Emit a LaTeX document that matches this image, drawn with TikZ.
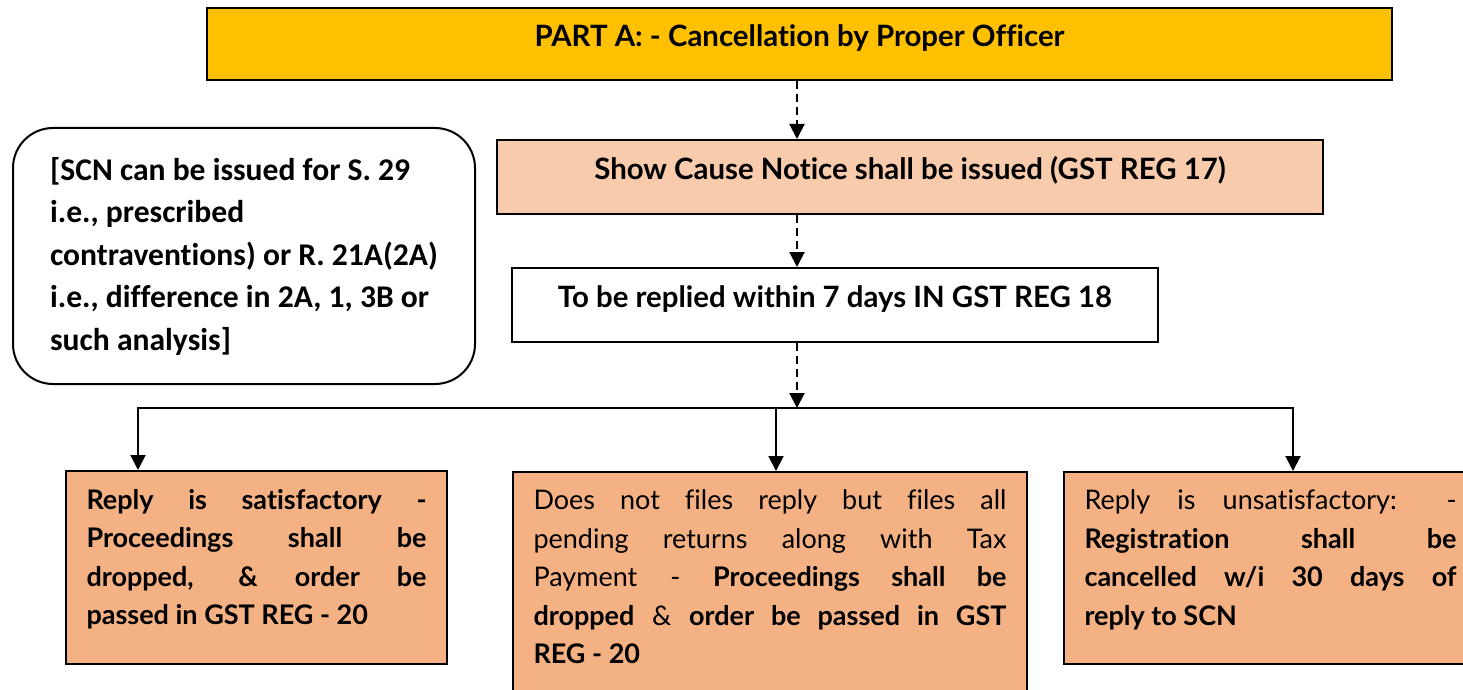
\documentclass[tikz,border=0pt]{standalone}
\usepackage{fontspec}
\setmainfont{Lato}[Ligatures=NoCommon]
\newfontfamily\notefont{Carlito}[Ligatures=NoCommon]
\usetikzlibrary{arrows.meta}

\definecolor{partgold}{HTML}{FFC000}
\definecolor{scnpeach}{HTML}{F8CBAD}
\definecolor{outpeach}{HTML}{F4B183}

\tikzset{
  stage/.style={draw=black, line width=1pt, inner xsep=0pt, inner ysep=0pt,
    font=\fontsize{14.7}{17}\selectfont\bfseries},
  outcome/.style={draw=black, line width=1pt, fill=outpeach, anchor=north west,
    inner xsep=10.25pt, inner ysep=9pt, font=\fontsize{13.5}{19.25}\selectfont},
  flow/.style={-{Triangle[length=7.5pt,width=7.5pt]}, line width=1pt},
  dashflow/.style={flow, dash pattern=on 4pt off 2.5pt},
}

\begin{document}
\begin{tikzpicture}[x=0.5pt, y=-0.5pt]
        % page frame, same size as the reference
        \useasboundingbox (0,0) rectangle (1463,690);

        % main column
        \node[stage, fill=partgold, minimum width=592.5pt, text height=19.5pt, text depth=16.5pt]
            (parta) at (799.5,44) {PART A: - Cancellation by Proper Officer};
        \node[stage, fill=scnpeach, minimum width=413pt, text height=20pt, text depth=17pt]
            (scn) at (910,177) {Show Cause Notice shall be issued (GST REG 17)};
        \node[stage, fill=white, minimum width=323pt, text height=19.5pt, text depth=17.5pt]
            (reply) at (835,305) {To be replied within 7 days IN GST REG 18};

        % side note
        \node[draw=black, line width=1pt, rounded corners=20pt, minimum width=231pt,
            minimum height=128pt, align=left, font=\notefont\bfseries\fontsize{15.8}{21.25}\selectfont]
            (scnnote) at (244,256) {[SCN can be issued for S. 29\\ i.e., prescribed\\
            contraventions) or R. 21A(2A)\\ i.e., difference in 2A, 1, 3B or\\ such analysis]};

        % outcomes
        \node[outcome] (sat) at (65,470) {\parbox[t][78.5pt][t]{170pt}{\bfseries
            Reply is satisfactory -\linebreak Proceedings shall be\linebreak
            dropped, \& order be\linebreak passed in GST REG - 20}};
        \node[outcome] (drop) at (512,471) {\parbox[t][110pt][t]{236.5pt}{%
            Does not files reply but files all\linebreak pending returns along with Tax\linebreak
            Payment - \textbf{Proceedings shall be\linebreak dropped} \& \textbf{order be passed in GST\linebreak
            REG - 20}}};
        \node[outcome] (unsat) at (1063,471) {\parbox[t][78pt][t]{186pt}{%
            Reply is unsatisfactory: -\linebreak \textbf{Registration shall be\linebreak
            cancelled w/i 30 days of\linebreak reply to SCN}}};

        % connectors
        \coordinate (spine) at (797,408);
        \coordinate (busl) at (138,408);
        \coordinate (busm) at (776,408);
        \coordinate (busr) at (1293,408);

        \draw[dashflow] (parta.south -| spine) -- (scn.north -| spine);
        \draw[dashflow] (scn.south -| spine) -- (reply.north -| spine);
        \draw[dashflow] (reply.south -| spine) -- (spine);

        \draw[flow] (busm) -- (busl) -- (sat.north -| busl);
        \draw[flow] (busm) -- (busr) -- (unsat.north -| busr);
        \draw[flow] (busm) -- (drop.north -| busm);
    \end{tikzpicture}
\end{document}
